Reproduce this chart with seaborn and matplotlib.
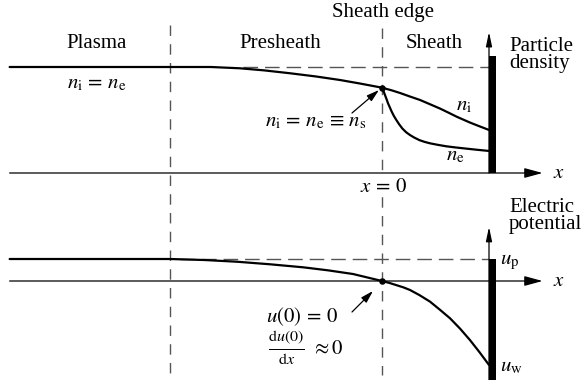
import matplotlib
matplotlib.use("Agg")
import matplotlib.pyplot as plt
import pandas as pd
import seaborn as sns

# ---------------------------------------------------------------------------
# Coordinates along the wall normal: sheath edge at x = 0, wall surface at x = 1
# ---------------------------------------------------------------------------
x_start = -3.48          # left end of the drawn axes
x_end = 1.50             # tip of the x arrows
presheath_start = -1.98  # plasma / presheath boundary
sheath_edge = 0.0
wall = 1.0
wall_thickness = 0.065

# Particle density (normalised to the bulk plasma density)
n_bulk = 1.0
n_s = 0.805
n_axis_top = 1.33
n_wall_top = 1.10

pre_x = [-3.48, -1.60, -1.33, -1.10, -0.86, -0.62, -0.39, -0.20, 0.0]
pre_n = [1.0, 1.0, 0.988, 0.968, 0.941, 0.911, 0.877, 0.843, 0.805]

ion_x = [0.0, 0.09, 0.168, 0.26, 0.355, 0.45, 0.542, 0.62, 0.698, 0.822, 0.91, 1.0]
ion_n = [0.805, 0.78, 0.755, 0.722, 0.689, 0.648, 0.608, 0.570, 0.531, 0.476, 0.441, 0.406]

ele_x = [0.0, 0.015, 0.03, 0.045, 0.056, 0.075, 0.09, 0.11, 0.134, 0.16, 0.19,
         0.225, 0.262, 0.30, 0.35, 0.40, 0.449, 0.52, 0.60, 0.68, 0.76, 0.88, 1.0]
ele_n = [0.805, 0.77, 0.73, 0.69, 0.658, 0.615, 0.58, 0.54, 0.50, 0.46, 0.42,
         0.385, 0.358, 0.335, 0.31, 0.293, 0.28, 0.266, 0.252, 0.242, 0.233, 0.22, 0.208]

# Electric potential (zero at the sheath edge)
u_p = 0.2075
u_axis_top = 0.51
u_bottom = -0.95

pot_x = [-3.48, -1.98, -1.66, -1.358, -1.05, -0.735, -0.50, -0.271, 0.0,
         0.065, 0.131, 0.20, 0.262, 0.35, 0.449, 0.54, 0.636, 0.73, 0.822, 0.91, 1.0]
pot_u = [0.2075, 0.2075, 0.198, 0.182, 0.158, 0.129, 0.100, 0.066, 0.0,
         -0.017, -0.038, -0.060, -0.085, -0.133, -0.195, -0.270, -0.352, -0.450,
         -0.557, -0.670, -0.792]

density = pd.concat([
    pd.DataFrame({"x": pre_x, "n": pre_n, "curve": "pre"}),
    pd.DataFrame({"x": ion_x, "n": ion_n, "curve": "ion"}),
    pd.DataFrame({"x": ele_x, "n": ele_n, "curve": "ele"}),
])
potential = pd.DataFrame({"x": pot_x, "u": pot_u})

# ---------------------------------------------------------------------------
sns.set_theme(style="white")
plt.rcParams["font.family"] = ["Liberation Serif", "DejaVu Serif"]
plt.rcParams["mathtext.fontset"] = "stix"

W, H = 585, 380
fig = plt.figure(figsize=(W / 100, H / 100), dpi=100)
xlim = (-382 / 107, (W - 382) / 107)
top_ylim = (-17 / 106, 173 / 106)
bot_ylim = (-99 / 106, 91 / 106)

ax_top = fig.add_axes([0, 0.5, 1, 0.5])
ax_bot = fig.add_axes([0, 0.0, 1, 0.5])

black = "black"
grey = "#555555"
curve_lw = 1.6
axis_lw = 0.9


def arrow(ax, start, tip, head_length, head_width, lw=axis_lw, z=4):
    ax.annotate("", xy=tip, xytext=start, xycoords="data", textcoords="data",
                arrowprops=dict(arrowstyle=f"-|>,head_length={head_length},head_width={head_width}",
                                lw=lw, color=black, shrinkA=0, shrinkB=0,
                                mutation_scale=10),
                zorder=z, annotation_clip=False)


def pointer(ax, tail, head):
    ax.annotate("", xy=head, xytext=tail,
                arrowprops=dict(arrowstyle="-|>,head_length=0.75,head_width=0.22",
                                lw=0.9, color=black, shrinkA=0, shrinkB=0,
                                mutation_scale=10), zorder=7)


# region boundaries: dashed lines running through both panels
for xb, top in ((presheath_start, 1.396), (sheath_edge, 1.368)):
    ax_top.plot([xb, xb], [top, -1.906], color=grey, lw=1.0,
                linestyle=(0, (7.5, 6.0)), clip_on=False, zorder=1)

# --- density panel ---------------------------------------------------------
ax_top.plot([-1.30, wall], [n_bulk, n_bulk], color=grey, lw=1.0,
            linestyle=(0, (10.5, 5.0)), zorder=1)
arrow(ax_top, (x_start, 0), (x_end, 0), 1.1, 0.3)
arrow(ax_top, (wall, 0), (wall, n_axis_top), 0.85, 0.18)
ax_top.fill_between([wall, wall + wall_thickness], 0, n_wall_top,
                    color=black, lw=0, zorder=5)

sns.lineplot(data=density, x="x", y="n", units="curve", estimator=None,
             sort=False, color=black, lw=curve_lw, ax=ax_top, legend=False,
             zorder=3)
sns.scatterplot(x=[sheath_edge], y=[n_s], color=black, s=22, ax=ax_top,
                legend=False, zorder=6, linewidth=0)
pointer(ax_top, ((352 - 382) / 107, (173 - 113) / 106),
        ((379 - 382) / 107, (173 - 90) / 106))

# --- potential panel -------------------------------------------------------
ax_bot.plot([-1.89, wall], [u_p, u_p], color=grey, lw=1.0,
            linestyle=(0, (10.5, 5.0)), zorder=1)
arrow(ax_bot, (x_start, 0), (x_end, 0), 1.1, 0.3)
arrow(ax_bot, (wall, u_bottom), (wall, u_axis_top), 0.85, 0.18)
ax_bot.fill_between([wall, wall + wall_thickness], u_bottom, u_p,
                    color=black, lw=0, zorder=5)

sns.lineplot(data=potential, x="x", y="u", estimator=None, sort=False,
             color=black, lw=curve_lw, ax=ax_bot, legend=False, zorder=3)
sns.scatterplot(x=[sheath_edge], y=[0.0], color=black, s=22, ax=ax_bot,
                legend=False, zorder=6, linewidth=0)
pointer(ax_bot, ((352 - 382) / 107, (281 - 312) / 106),
        ((373 - 382) / 107, (281 - 291) / 106))

for ax, ylim in ((ax_top, top_ylim), (ax_bot, bot_ylim)):
    ax.set_xlim(*xlim)
    ax.set_ylim(*ylim)
    ax.set_axis_off()


# --- labels ----------------------------------------------------------------
def label(px, py, s, size=15, ha="center", va="center", **kw):
    fig.text(px / W, 1 - py / H, s, fontsize=size, ha=ha, va=va, color=black, **kw)


label(383, 13, "Sheath edge")
label(97, 44, "Plasma")
label(280, 44, "Presheath")
label(434, 44, "Sheath")
label(509, 55, "Particle\ndensity", ha="left", linespacing=0.92)
label(97, 84, r"$n_\mathrm{i} \,=\, n_\mathrm{e}$")
label(316, 122, r"$n_\mathrm{i} \,=\, n_\mathrm{e} \,\equiv\, n_\mathrm{s}$")
label(464, 106, r"$n_\mathrm{i}$")
label(455, 156, r"$n_\mathrm{e}$")
label(559, 173, r"$x$")
label(384, 187, r"$x \,=\, 0$",
      bbox=dict(facecolor="white", edgecolor="none", pad=0.5), zorder=8)
label(509, 216, "Electric\npotential", ha="left", linespacing=0.92)
label(500, 262, r"$u_\mathrm{p}$", ha="left")
label(559, 281, r"$x$")
label(302, 317, r"$u(0) \,=\, 0$")
label(305, 348, r"$\frac{\mathrm{d}u(0)}{\mathrm{d}x}$", size=16.5, ha="right")
label(311, 349, r"$\approx 0$", ha="left")
label(500, 367, r"$u_\mathrm{w}$", ha="left")

fig.savefig("out.png", dpi=100)
